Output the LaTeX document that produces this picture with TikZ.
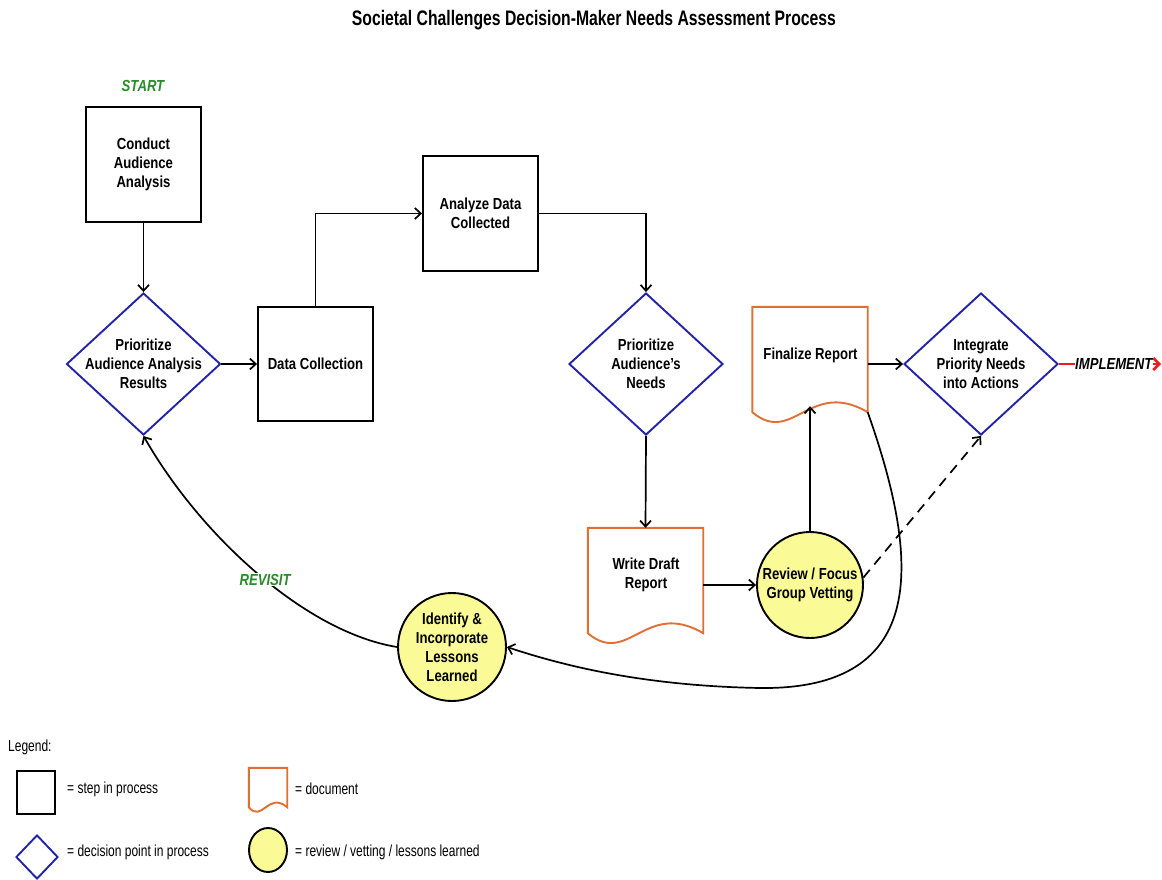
\documentclass[tikz,border=0pt]{standalone}
\usepackage{fontspec}
\setmainfont{Liberation Sans}[FakeStretch=0.82]
\newfontfamily\narrowfont{Liberation Sans}[FakeStretch=0.75]
\usetikzlibrary{shapes.geometric,arrows.meta,calc}
\definecolor{dblue}{RGB}{35,35,170}
\definecolor{dorange}{RGB}{225,110,50}
\definecolor{lyellow}{RGB}{250,250,150}
\definecolor{dgreen}{RGB}{40,140,40}
\definecolor{ired}{RGB}{230,30,30}
\newcommand{\drawdoc}[2]{%
  \draw[docline] (#1.south west) -- (#1.north west) -- (#1.north east) -- (#1.south east)
    .. controls ($(#1.south east)!0.5!(#1.south west)+(0,-#2)$) and ($(#1.south west)!0.35!(#1.south east)+(0,#2)$) .. (#1.south west) -- cycle;}
\begin{document}
\begin{tikzpicture}[x=1pt,y=-1pt,
  txt/.style={font=\fontsize{16}{19}\selectfont\bfseries, align=center},
  stepbox/.style={draw, line width=1.9pt, minimum width=115pt, minimum height=115pt, inner sep=0pt, txt},
  decision/.style={draw=dblue, line width=1.9pt, shape=diamond, minimum width=154pt, minimum height=142pt, inner sep=0pt},
  docbox/.style={minimum width=115pt, minimum height=105pt, inner sep=0pt},
  docline/.style={draw=dorange, line width=1.9pt, line join=miter},
  review/.style={circle, draw, fill=lyellow, line width=1.9pt, minimum size=106pt, inner sep=0pt, txt},
  flow/.style={line width=1.7pt, -{Straight Barb[length=6pt,width=11pt]}},
  lbl/.style={font=\fontsize{16}{19}\selectfont\bfseries\itshape},
  legtxt/.style={font=\narrowfont\fontsize{16}{19}\selectfont, anchor=west, inner sep=0pt},
]
\useasboundingbox (0,0) rectangle (1162,879);

\node[font=\narrowfont\fontsize{21}{24}\selectfont\bfseries] (title) at (594,20) {Societal Challenges Decision-Maker Needs Assessment Process};

\node[lbl, text=dgreen] (start) at (143,86) {START};

\node[stepbox] (caa) at (143.5,164.5) {Conduct\\Audience\\Analysis};
\node[decision, label={[txt]center:Prioritize\\Audience Analysis\\Results}] (paa) at (143.5,364) {};
\node[stepbox, minimum height=114pt] (dc) at (315.5,364) {Data Collection};
\node[stepbox] (adc) at (480.5,213.5) {Analyze Data\\Collected};
\node[decision, label={[txt]center:Prioritize\\Audience’s\\Needs}] (pan) at (646,364) {};
\node[docbox] (wdr) at (645.5,580.5) {};
\drawdoc{wdr}{34}
\node[txt] (wdrt) at (646,575) {Write Draft\\Report};
\node[review] (rfg) at (810,585) {Review / Focus\\Group Vetting};
\node[docbox] (frp) at (810,359.5) {};
\drawdoc{frp}{34}
\node[txt] (frpt) at (810.5,355) {Finalize Report};
\node[decision, label={[txt]center:Integrate\\Priority Needs\\into Actions}] (ipn) at (981,364) {};
\node[review, minimum size=108pt] (iil) at (452,647) {Identify \&\\Incorporate\\Lessons\\Learned};
\node[lbl, anchor=west, inner sep=0pt] (imp) at (1075,364) {IMPLEMENT};
\coordinate (impend) at (1161,364);

% connectors
\draw[flow] (caa) -- (paa.north);
\draw[flow] (paa.east) -- (dc.west);
\draw[flow] (dc.north) |- (adc.west);
\draw[flow] (adc.east) -| (pan.north);
\draw[flow] (pan.south) -- (wdr.north);
\draw[flow] (wdr.east |- rfg.west) -- (rfg.west);
\draw[flow] (rfg.north) -- ([yshift=6pt]frp.south);
\draw[flow] (frp.east |- ipn.west) -- (ipn.west);
\draw[line width=2.5pt, ired] (ipn.east) -- (imp.west);
\draw[line width=2.5pt, ired, -{Straight Barb[length=6pt,width=12pt]}] (imp.east) -- (impend);
\draw[flow, dash pattern=on 10pt off 7pt] (rfg.8) -- (ipn.south);
\draw[flow] (frp.south east) .. controls (920,560) and (930,690) .. (760,688)
  .. controls (650,686) and (570,668) .. (iil.east);
\draw[flow] (iil.west) .. controls (305,632) and (200,535) .. (paa.south)
  node[pos=0.47, lbl, text=dgreen, fill=white, inner sep=1pt] (rev) {REVISIT};

% legend
\node[legtxt] (leg) at (8,747) {Legend:};
\node[draw, line width=1.9pt, minimum width=38pt, minimum height=43pt, inner sep=0pt] (lstep) at (36,792.5) {};
\node[legtxt] (lstept) at (67,789) {= step in process};
\node[docbox, minimum width=38pt, minimum height=39pt] (ldoc) at (268,787.5) {};
\drawdoc{ldoc}{16}
\node[legtxt] (ldoct) at (295,789) {= document};
\node[decision, minimum width=42pt, minimum height=44pt] (ldec) at (37,857) {};
\node[legtxt] (ldect) at (67,852) {= decision point in process};
\node[ellipse, draw, fill=lyellow, line width=1.9pt, minimum width=38pt, minimum height=44pt, inner sep=0pt] (lrev) at (268,850) {};
\node[legtxt] (lrevt) at (295,852) {= review / vetting / lessons learned};
\end{tikzpicture}
\end{document}
